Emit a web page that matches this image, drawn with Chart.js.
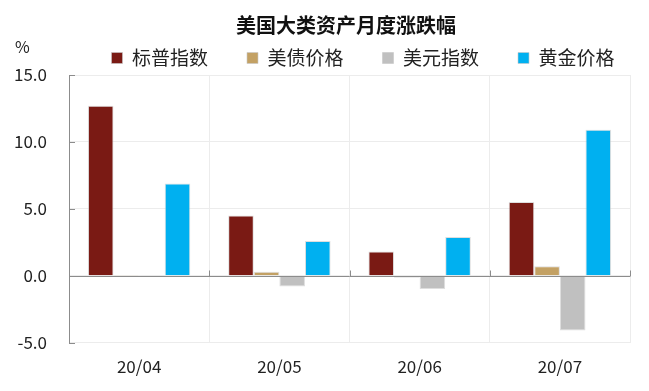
<!DOCTYPE html>
<html>
<head>
<meta charset="utf-8">
<script src="https://cdn.jsdelivr.net/npm/chart.js@4/dist/chart.umd.min.js"></script>
<style>
	html, body { margin: 0; padding: 0; background: #fff; }
	#wrap { width: 649px; height: 391px; }
</style>
</head>
<body>
<div id="wrap"><canvas id="chart"></canvas></div>
<script>
	var months = ['20/04', '20/05', '20/06', '20/07'];
	var spx = [12.7, 4.5, 1.8, 5.5];
	var bond = [0.05, 0.3, -0.15, 0.7];
	var usd = [0.05, -0.8, -1.0, -4.1];
	var gold = [6.9, 2.6, 2.9, 10.9];
	var seriesNames = ['标普指数', '美债价格', '美元指数', '黄金价格'];
	var seriesColors = ['#7a1a14', '#c3a164', '#c0c0c0', '#00b0f0'];

	var cjk = '"Noto Sans CJK SC", "Noto Sans", sans-serif';
	var legendPad = 39;

	// zero line ticks + inward y ticks + the "%" unit label
	var axisExtras = {
		id: 'axisExtras',
		afterDraw: function(chart) {
			var ctx = chart.ctx;
			var xs = chart.scales.x, ys = chart.scales.y;
			var area = chart.chartArea;
			var y0 = Math.round(ys.getPixelForValue(0)) + 0.5;
			var step = xs.getPixelForTick(1) - xs.getPixelForTick(0);
			ctx.save();
			ctx.strokeStyle = '#8c8c8c';
			ctx.lineWidth = 1;
			ctx.beginPath();
			ctx.moveTo(area.left, y0);
			ctx.lineTo(area.right, y0);
			for (var i = 0; i <= months.length; i++) {
				var gx = Math.round(xs.getPixelForTick(0) - step / 2 + i * step) + 0.5;
				ctx.moveTo(gx, y0);
				ctx.lineTo(gx, y0 - 6);
			}
			ys.ticks.forEach(function(t) {
				var py = Math.round(ys.getPixelForValue(t.value)) + 0.5;
				ctx.moveTo(area.left, py);
				ctx.lineTo(area.left + 6, py);
			});
			ctx.stroke();
			ctx.fillStyle = '#222';
			ctx.font = '16px ' + cjk;
			ctx.textAlign = 'left';
			ctx.textBaseline = 'middle';
			ctx.fillText('%', 15, 47);
			ctx.restore();
		}
	};

	// legend keeps wide gaps between items but not the tall box that padding gives
	var headerFix = {
		id: 'headerFix',
		beforeLayout: function(chart) {
			var lg = chart.legend;
			if (lg && !lg._fitWrapped) {
				var fit = lg.fit;
				lg.fit = function() {
					fit.apply(this, arguments);
					this.height = 38;
				};
				lg._fitWrapped = true;
			}
		},
		afterLayout: function(chart) {
			var lg = chart.legend;
			var top = 58 - legendPad - 9.5;
			lg.top = top;
			lg.height = legendPad * 2 + 19;
			lg.bottom = top + lg.height;
			lg.left += 48;
			lg.right += 48;
			var tb = chart.titleBlock;
			tb.left += 31;
			tb.right += 31;
		}
	};

	var datasets = [spx, bond, usd, gold].map(function(vals, i) {
		return {
			label: seriesNames[i],
			data: vals,
			backgroundColor: seriesColors[i],
			borderColor: 'rgba(200,200,200,0.6)',
			borderWidth: 1,
			borderSkipped: 'start',
			categoryPercentage: 0.73,
			barPercentage: 1.0
		};
	});

	new Chart(document.getElementById('chart').getContext('2d'), {
		type: 'bar',
		data: { labels: months, datasets: datasets },
		plugins: [axisExtras, headerFix],
		options: {
			responsive: true,
			maintainAspectRatio: false,
			animation: false,
			layout: { padding: { left: 0, right: 19, top: 0, bottom: 0 } },
			plugins: {
				title: {
					display: true,
					text: '美国大类资产月度涨跌幅',
					color: '#111',
					font: { family: cjk, size: 20, weight: 'bold' },
					padding: { top: 13, bottom: 0 }
				},
				legend: {
					position: 'top',
					labels: {
						color: '#222',
						font: { family: cjk, size: 19 },
						boxWidth: 11,
						boxHeight: 11,
						padding: legendPad
					}
				},
				tooltip: { enabled: false }
			},
			scales: {
				x: {
					grid: { color: '#ececec', drawTicks: false, offset: true },
					border: { color: '#ececec' },
					ticks: { color: '#222', font: { family: cjk, size: 17 }, padding: 14 }
				},
				y: {
					min: -5,
					max: 15,
					afterFit: function(scale) { scale.width = 69; },
					grid: { color: '#ececec', drawTicks: false },
					border: { color: '#8c8c8c' },
					ticks: {
						stepSize: 5,
						color: '#222',
						font: { family: cjk, size: 17 },
						padding: 22,
						callback: function(v) { return v.toFixed(1); }
					}
				}
			}
		}
	});
</script>
</body>
</html>
